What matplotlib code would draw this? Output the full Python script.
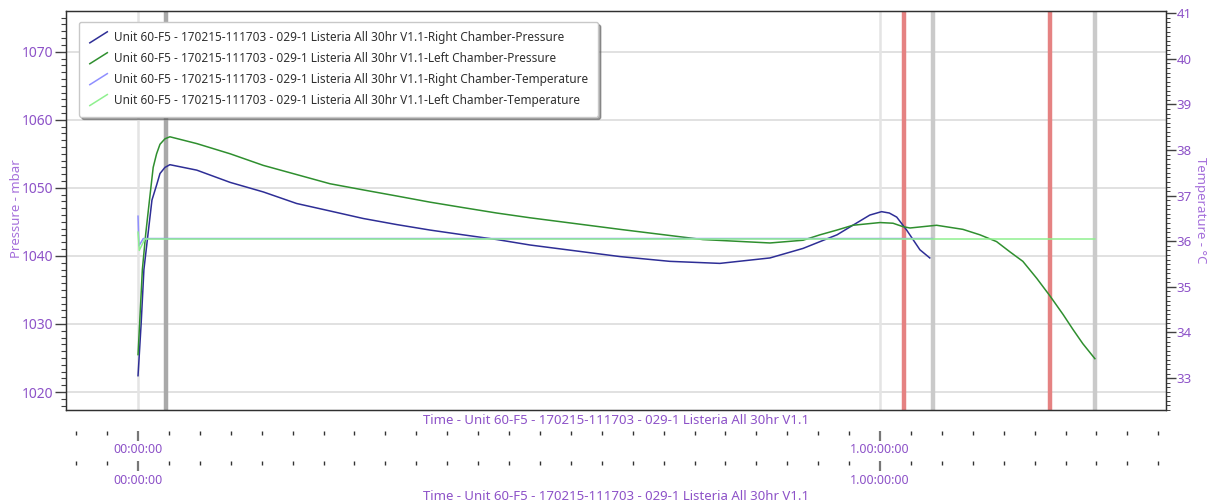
import numpy as np
import matplotlib as mpl
mpl.use('Agg')
import matplotlib.pyplot as plt
from matplotlib.lines import Line2D
from matplotlib.legend_handler import HandlerBase
from matplotlib.ticker import MultipleLocator, FixedLocator

plt.rcParams['font.family'] = ['Noto Sans', 'DejaVu Sans']

# hours since start
run = "Unit 60-F5 - 170215-111703 - 029-1 Listeria All 30hr V1.1"
names = ["Right Chamber-Pressure", "Left Chamber-Pressure",
         "Right Chamber-Temperature", "Left Chamber-Temperature"]

rp_h = [0.0, 0.10, 0.19, 0.45, 0.60, 0.71, 0.87, 1.03, 1.9, 2.98, 4.05, 5.13, 6.21, 7.28, 8.37,
        9.44, 10.51, 11.61, 12.68, 15.59, 17.2, 18.82, 20.44, 21.51, 22.06, 22.61, 23.12,
        23.67, 24.05, 24.3, 24.54, 24.86, 25.29, 25.61]
rp = [1022.4, 1030.0, 1038.0, 1048.2, 1050.4, 1052.1, 1053.0, 1053.4, 1052.6, 1050.8, 1049.4,
      1047.7, 1046.6, 1045.5, 1044.6, 1043.8, 1043.1, 1042.4, 1041.6, 1039.9, 1039.2, 1038.9,
      1039.7, 1041.1, 1042.1, 1043.1, 1044.5, 1046.0, 1046.5, 1046.3, 1045.7, 1043.8, 1040.9,
      1039.7]

lp_h = [0.0, 0.14, 0.25, 0.37, 0.49, 0.60, 0.71, 0.87, 1.03, 1.9, 2.98, 4.05, 6.21,
        7.28, 8.37, 9.44, 10.51, 11.6, 12.68, 15.59, 18.27, 20.44, 21.51, 22.06, 22.61,
        23.12, 24.0, 24.42, 24.74, 24.97, 25.61, 25.83, 26.68, 27.23, 27.77, 28.2, 28.62,
        29.07, 29.50, 29.92, 30.24, 30.56, 30.95]
lp = [1025.5, 1038.0, 1043.3, 1048.2, 1053.0, 1055.0, 1056.4, 1057.2, 1057.5, 1056.5, 1055.0,
      1053.3, 1050.6, 1049.7, 1048.8, 1047.9, 1047.1, 1046.3, 1045.6, 1043.9, 1042.4,
      1041.9, 1042.3, 1043.1, 1043.8, 1044.5, 1044.9, 1044.8, 1044.3, 1044.1, 1044.4, 1044.5,
      1043.9, 1043.1, 1042.1, 1040.6, 1039.2, 1036.7, 1034.1, 1031.4, 1029.2, 1027.1, 1024.9]

rt_h = [0.0, 0.03, 0.17, 25.7]
rt = [36.55, 35.9, 36.06, 36.06]
lt_h = [0.0, 0.04, 0.22, 30.95]
lt = [36.2, 35.8, 36.05, 36.05]

# event markers (hours)
gray_marks = [0.91, 25.71, 30.95]
red_marks = [24.77, 29.50]

purple = '#8d52c8'


class DiagHandler(HandlerBase):
    def create_artists(self, legend, orig, xd, yd, width, height, fontsize, trans):
        ln = Line2D([-xd + 1, -xd + width], [-yd - 1, -yd + height + 1],
                    color=orig.get_color(), lw=orig.get_linewidth())
        ln.set_transform(trans)
        return [ln]


fig = plt.figure(figsize=(12.1, 5.03), dpi=100)
ax = fig.add_axes([66/1210, 1 - 410/503, 1100/1210, 399/503])
ax2 = ax.twinx()

ax.set_xlim(-2.33, 33.25)
ax.set_ylim(1017.36, 1075.98)
ax2.set_ylim(32.30, 41.05)

for y in range(1020, 1071, 10):
    ax.axhline(y, color='#dcdcdc', lw=1.2, zorder=0)
for h in [0, 24]:
    ax.axvline(h, color='#e4e4e4', lw=1.8, zorder=0)

ax.axvline(gray_marks[0], color='#a9a9a9', lw=3.2, zorder=1)
for h in gray_marks[1:]:
    ax.axvline(h, color='#cacaca', lw=3.2, zorder=1)
for h in red_marks:
    ax.axvline(h, color='#e58282', lw=3.2, zorder=1)

l1, = ax.plot(rp_h, rp, color='#2e2e96', lw=1.1, zorder=3)
l2, = ax.plot(lp_h, lp, color='#2f8f2f', lw=1.1, zorder=3)
l3, = ax2.plot(rt_h, rt, color='#8f8fff', lw=1.1)
l4, = ax2.plot(lt_h, lt, color='#8ff08f', lw=1.1)

ax.set_xticks([])
ax.yaxis.set_major_locator(MultipleLocator(10))
ax.yaxis.set_minor_locator(MultipleLocator(1))
ax.tick_params(axis='y', which='major', length=8, width=1, pad=1, colors='#404040',
               labelcolor=purple, labelsize=10)
ax.tick_params(axis='y', which='minor', length=3.5, width=0.8, colors='#404040')

ax2.yaxis.set_major_locator(MultipleLocator(1))
ax2.yaxis.set_minor_locator(MultipleLocator(0.1))
ax2.tick_params(axis='y', which='major', length=7, width=1, pad=0.5, colors='#404040',
                labelcolor=purple, labelsize=9.5)
ax2.tick_params(axis='y', which='minor', length=3, width=0.7, colors='#404040')

fig.text(17/1210, 1 - 209/503, "Pressure - mbar", rotation=90, ha='center', va='center',
         color='#a56fdb', fontsize=9.5)
fig.text(1200/1210, 1 - 210/503, "Temperature - °C", rotation=-90, ha='center', va='center',
         color='#a56fdb', fontsize=9.5)

for a in [ax, ax2]:
    for s in a.spines.values():
        s.set_color('#303030')
        s.set_linewidth(0.9)

# two time axes under the plot
for loc, title_y in [(-0.0526, 421), (-0.128, 496)]:
    sx = ax.secondary_xaxis(loc)
    sx.spines['bottom'].set_visible(False)
    sx.xaxis.set_major_locator(FixedLocator([0, 24]))
    sx.xaxis.set_minor_locator(FixedLocator([h for h in range(-2, 34) if h not in (0, 24)]))
    sx.set_xticklabels(["00:00:00", "1.00:00:00"])
    sx.tick_params(which='major', length=7, width=1.6, color='#777777', pad=2,
                   labelcolor=purple, labelsize=9)
    sx.tick_params(which='minor', length=3, width=1, color='#333333')
    fig.text((66 + 1100/2)/1210, 1 - title_y/503, "Time - " + run, ha='center', va='center',
             color=purple, fontsize=9.5)

leg = ax2.legend([l1, l2, l3, l4], [run + "-" + n for n in names],
                 handler_map={Line2D: DiagHandler()},
                 loc='upper left', bbox_to_anchor=(0.0118, 0.9724), borderaxespad=0,
                 fontsize=8.5, frameon=True, fancybox=True, shadow=True, framealpha=1,
                 edgecolor='#c8c8c8', handlelength=1.6, handletextpad=0.6,
                 labelspacing=0.67, borderpad=0.8)
for t in leg.get_texts():
    t.set_color('#303030')

fig.savefig("out.png", dpi=100)
